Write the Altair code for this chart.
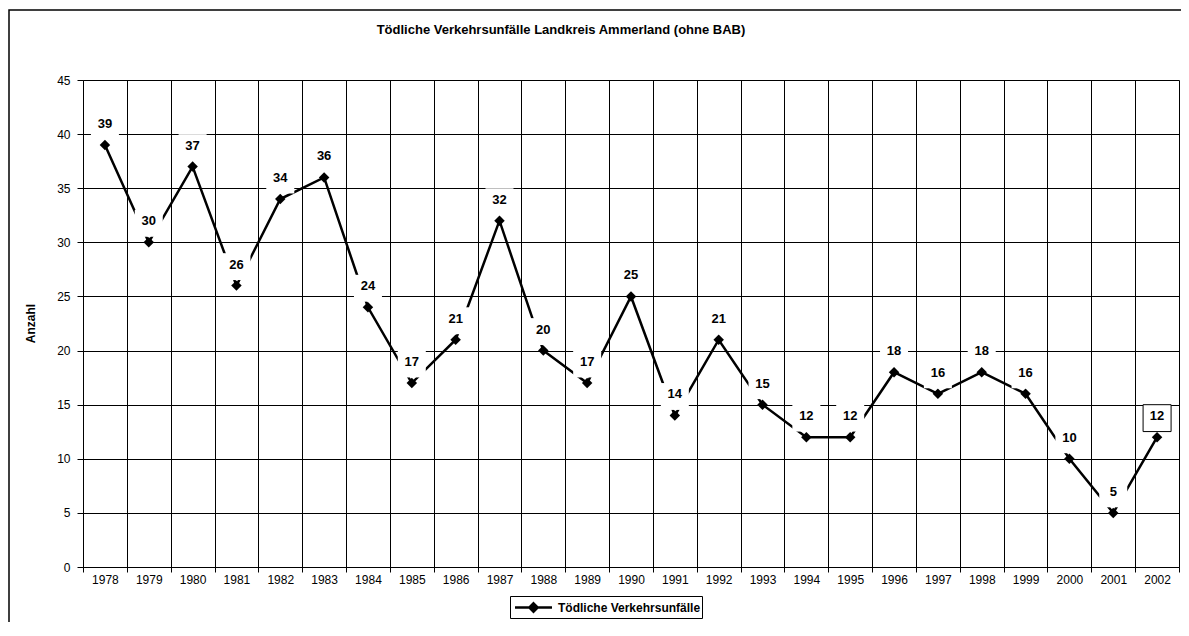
import altair as alt
import pandas as pd

years = [str(y) for y in range(1978, 2003)]
values = [39, 30, 37, 26, 34, 36, 24, 17, 21, 32, 20, 17, 25, 14, 21, 15, 12, 12, 18, 16, 18, 16, 10, 5, 12]
series_name = "Tödliche Verkehrsunfälle"
framed = [False] * 24 + [True]

df = pd.DataFrame({"year": years, "value": values, "series": series_name, "framed": framed})

FONT = "Liberation Sans"

x_enc = alt.X("year:O", title=None,
              scale=alt.Scale(paddingInner=0, paddingOuter=0),
              axis=alt.Axis(labelAngle=0, tickBand="extent", grid=True, gridColor="black",
                            gridWidth=1, tickColor="black", tickSize=5, domainColor="black",
                            labelFontSize=12, labelFont=FONT, labelColor="black", labelPadding=2))
y_enc = alt.Y("value:Q", title="Anzahl",
              scale=alt.Scale(domain=[0, 45], nice=False),
              axis=alt.Axis(values=list(range(0, 50, 5)), grid=True, gridColor="black", gridWidth=1,
                            tickColor="black", tickSize=6, domainColor="black", labelFontSize=12,
                            labelFont=FONT, labelColor="black", labelPadding=7,
                            titleFont=FONT, titleFontSize=12, titleFontWeight="bold", titleColor="black",
                            titleX=-53, titleY=243, titleAngle=-90, titleAlign="center",
                            titleBaseline="middle"))

base = alt.Chart(df)

border = alt.Chart(pd.DataFrame({"a": [0]})).mark_rect(
    fill=None, stroke="black", strokeWidth=1.5
).encode(x=alt.value(-74), x2=alt.value(1300), y=alt.value(-70), y2=alt.value(800))

line = base.mark_line(strokeWidth=2.5).encode(
    x=x_enc, y=y_enc,
    color=alt.Color("series:N", scale=alt.Scale(range=["black"]),
                    legend=alt.Legend(title=None, orient="none", legendX=427, legendY=516,
                                      strokeColor="black", fillColor="white", padding=1,
                                      labelFont=FONT, labelFontSize=12, labelFontWeight="bold",
                                      labelColor="black",
                                      symbolType="M-2,0L2,0M0,-0.45L0.45,0L0,0.45L-0.45,0Z",
                                      symbolSize=342, symbolStrokeWidth=2.5,
                                      symbolFillColor="black", symbolStrokeColor="black",
                                      symbolOffset=12, labelOffset=14))
)

points = base.mark_point(shape="diamond", filled=True, color="black", size=110, opacity=1).encode(
    x="year:O", y="value:Q"
)

boxes = base.mark_point(
    shape="M-1,-0.96L1,-0.96L1,0.96L-1,0.96Z", filled=True, fill="white", size=784,
    opacity=1, yOffset=-19, strokeWidth=1
).encode(
    x="year:O", y="value:Q",
    stroke=alt.condition("datum.framed", alt.value("black"), alt.value("white")),
    strokeOpacity=alt.condition("datum.framed", alt.value(1), alt.value(0)),
)

labels = base.mark_text(font=FONT, fontSize=13, fontWeight="bold", color="black",
                        baseline="middle", dy=-21).encode(
    x="year:O", y="value:Q", text="value:Q"
)

chart = alt.layer(border, line, points, boxes, labels).properties(
    width=1096, height=487,
    padding={"left": 75, "top": 72, "right": 2, "bottom": 55},
    autosize=alt.AutoSizeParams(type="none"),
    background="white",
    title=alt.TitleParams("Tödliche Verkehrsunfälle Landkreis Ammerland (ohne BAB)",
                          font=FONT, fontSize=13, fontWeight="bold", color="black",
                          anchor="middle", dx=-70, offset=-28),
).configure_view(stroke=None)

chart.save("out.html", embed_options={"renderer": "svg", "actions": False})
